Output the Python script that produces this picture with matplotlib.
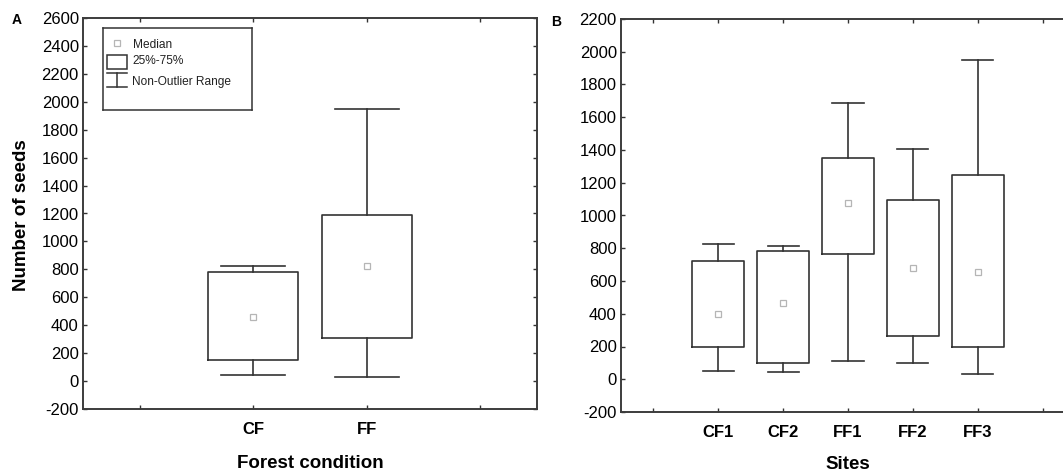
"""Seed counts by forest condition (A) and by site (B) -- box plots."""
import matplotlib

matplotlib.use("Agg")
import matplotlib.pyplot as plt
from matplotlib.patches import Rectangle

W, H = 1063, 473
SANS = ["Liberation Sans", "DejaVu Sans"]
NARROW = ["Liberation Sans Narrow", "Liberation Sans", "DejaVu Sans"]
plt.rcParams["font.family"] = SANS
plt.rcParams["axes.unicode_minus"] = False

# --- data --------------------------------------------------------------------
cond = ["CF", "FF"]
cond_med = [460, 825]
cond_q1 = [154, 311]
cond_q3 = [782, 1188]
cond_lo = [44, 27]
cond_hi = [825, 1947]

sites = ["CF1", "CF2", "FF1", "FF2", "FF3"]
site_med = [401, 468, 1077, 680, 653]
site_q1 = [195, 102, 765, 267, 197]
site_q3 = [725, 784, 1350, 1094, 1250]
site_lo = [49, 45, 112, 102, 33]
site_hi = [826, 816, 1689, 1405, 1948]

EDGE = "#333333"


def px_axes(fig, x0, y0, x1, y1):
    return fig.add_axes([x0 / W, 1 - y1 / H, (x1 - x0) / W, (y1 - y0) / H])


def boxes(ax, labels, med, q1, q3, lo, hi, width, capw):
    pos = list(range(1, len(labels) + 1))
    stats = [dict(med=m, q1=a, q3=b, whislo=l, whishi=h, label=lab)
             for lab, m, a, b, l, h in zip(labels, med, q1, q3, lo, hi)]
    line = dict(color=EDGE, lw=1.2)
    ax.bxp(stats, positions=pos, widths=width, capwidths=capw, showfliers=False,
           boxprops=line, whiskerprops=line, capprops=line,
           medianprops=dict(linestyle="none"), manage_ticks=False)
    ax.plot(pos, med, "s", ms=4, mfc="white", mec="#b5b5b5", mew=0.9, zorder=5)
    n = len(labels)
    ax.set_xlim(-0.5, n + 1.5)
    ax.set_xticks(range(0, n + 2))
    ax.set_xticklabels([""] + labels + [""], family=NARROW, fontweight="bold",
                       fontsize=11)
    ax.tick_params(direction="in", top=True, right=True, length=3, width=1,
                   color=EDGE, labelsize=12)
    ax.tick_params(axis="x", pad=9)
    ax.tick_params(axis="y", pad=3)
    for s in ax.spines.values():
        s.set_linewidth(1.4); s.set_color("#3c3c3c")


fig = plt.figure(figsize=(W / 100, H / 100), dpi=100)

# --- panel A -----------------------------------------------------------------
axA = px_axes(fig, 83, 18, 537, 409)
boxes(axA, cond, cond_med, cond_q1, cond_q3, cond_lo, cond_hi, 0.79, 0.56)
axA.set_ylim(-200, 2600); axA.set_yticks(range(-200, 2601, 200))

# --- panel B -----------------------------------------------------------------
axB = px_axes(fig, 621, 19, 1075, 412)
boxes(axB, sites, site_med, site_q1, site_q3, site_lo, site_hi, 0.80, 0.48)
axB.set_ylim(-200, 2200); axB.set_yticks(range(-200, 2201, 200))

# --- legend drawn in its own little pixel-space axes -------------------------
lg = px_axes(fig, 103, 28, 252, 110)
lg.set_xlim(0, 149); lg.set_ylim(82, 0)
lg.set_xticks([]); lg.set_yticks([])
for s in lg.spines.values():
    s.set_linewidth(1.1); s.set_color(EDGE)
lg.plot([14], [15], "s", ms=4, mfc="white", mec="#b5b5b5", mew=0.9)
lg.add_patch(Rectangle((4, 27), 20, 14, fill=False, ec=EDGE, lw=1.1))
lg.plot([4, 24], [45, 45], color=EDGE, lw=1.1)
lg.plot([14, 14], [45, 59], color=EDGE, lw=1.1)
lg.plot([4, 24], [59, 59], color=EDGE, lw=1.1)
for yy, txt in [(16.5, "Median"), (33.5, "25%-75%"), (53.5, "Non-Outlier Range")]:
    lg.text(29.5, yy, txt, fontsize=8.6, va="center", ha="left", color="#222222")

# --- labels ------------------------------------------------------------------
fig.text(22 / W, 1 - 215 / H, "Number of seeds", rotation=90, ha="center",
         va="center", fontsize=13.5, fontweight="bold")
fig.text(310 / W, 1 - 468 / H, "Forest condition", ha="center", va="baseline",
         fontsize=13.5, fontweight="bold", family=NARROW)
fig.text(848 / W, 1 - 469 / H, "Sites", ha="center", va="baseline",
         fontsize=13.5, fontweight="bold", family=NARROW)
fig.text(17 / W, 1 - 19.5 / H, "A", ha="center", va="center", fontsize=10,
         fontweight="bold")
fig.text(556 / W, 1 - 22.5 / H, "B", ha="center", va="center", fontsize=10,
         fontweight="bold")

fig.savefig("out.png", dpi=100)
